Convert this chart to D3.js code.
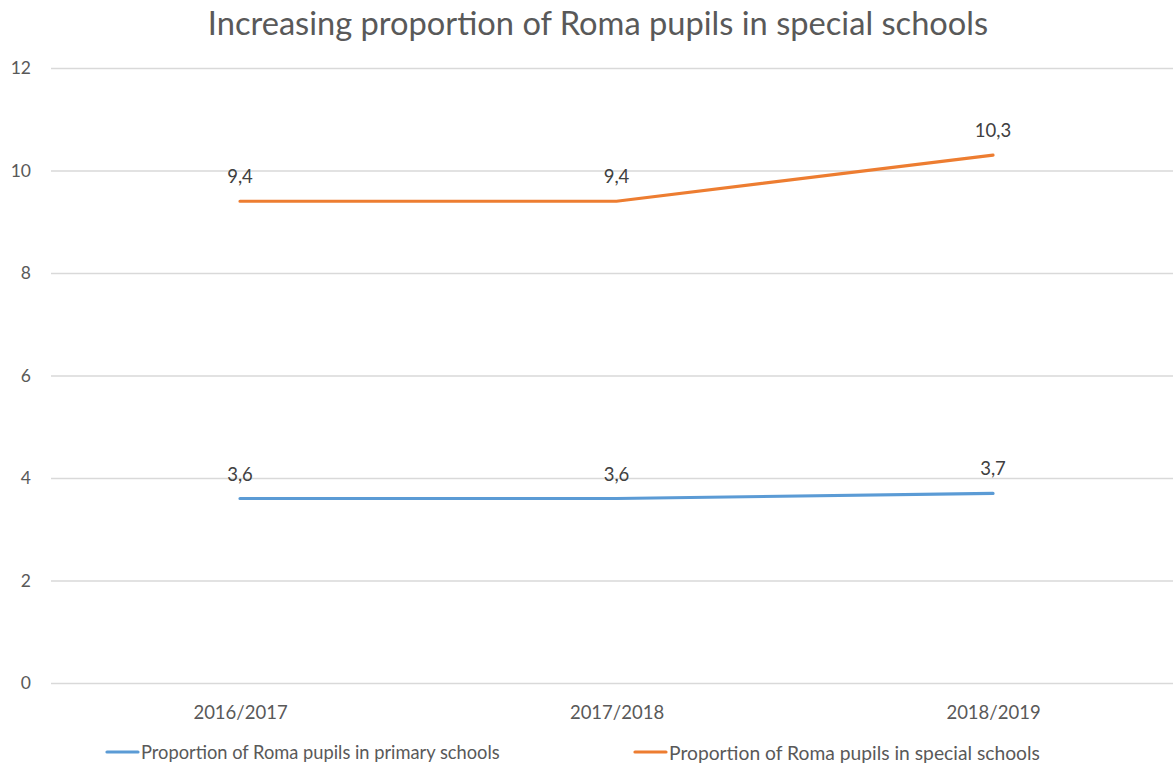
<!DOCTYPE html>
<html><head><meta charset="utf-8">
<script src="https://cdn.jsdelivr.net/npm/d3@7"></script>
<style>body{margin:0;background:#fff}svg{display:block}text{font-family:Lato,"Open Sans",sans-serif;fill:#595959}</style>
</head><body><svg id="c" width="1173" height="769"></svg>
<script>
const title = "Increasing proportion of Roma pupils in special schools";
const categories = ["2016/2017", "2017/2018", "2018/2019"];
const seriesNames = ["Proportion of Roma pupils in primary schools", "Proportion of Roma pupils in special schools"];
const primaryValues = [3.6, 3.6, 3.7];
const specialValues = [9.4, 9.4, 10.3];
const yTicks = [0, 2, 4, 6, 8, 10, 12];
const colors = ["#5B9BD5", "#ED7D31"];

const svg = d3.select("#c");
const x = d3.scalePoint().domain(categories).range([240, 993]);
const y = d3.scaleLinear().domain([0, 12]).range([683, 68]);

function fit(sel, w) {
  const n = sel.node(); const fs = parseFloat(sel.style("font-size"));
  const l = n.getComputedTextLength(); sel.style("font-size", (fs * w / l) + "px");
}

svg.append("text").attr("x", 598).attr("y", 22).attr("text-anchor", "middle")
  .attr("dominant-baseline", "central").style("font-size", "28px").text(title)
  .call(s => fit(s, 781));

const yAxis = d3.axisLeft(y).tickValues(yTicks).tickSize(-1130).tickPadding(20);
const ga = svg.append("g").attr("transform", "translate(51,0)").call(yAxis);
ga.select(".domain").remove();
ga.selectAll(".tick line").attr("stroke", "#D9D9D9").attr("stroke-width", 1.3);
ga.selectAll(".tick text").style("font-size", "17.5px").attr("font-family", null).style("fill", "#595959");

const xAxis = d3.axisBottom(x).tickSize(0).tickPadding(0);
const gx = svg.append("g").attr("transform", "translate(0,713)").call(xAxis);
gx.select(".domain").remove();
gx.selectAll(".tick text").style("font-size", "18.5px").attr("dy", "0.35em").attr("font-family", null).style("fill", "#595959");

const series = [primaryValues, specialValues];
const line = d3.line().x((d, i) => x(categories[i])).y(d => y(d));
series.forEach((vals, si) => {
  svg.append("path").datum(vals).attr("d", line).attr("fill", "none")
    .attr("stroke", colors[si]).attr("stroke-width", 3.2).attr("stroke-linecap", "round");
  svg.selectAll(null).data(vals).enter().append("text")
    .attr("x", (d, i) => x(categories[i]))
    .attr("y", d => y(d) - 25)
    .attr("text-anchor", "middle").attr("dominant-baseline", "central")
    .style("font-size", "18.5px").style("fill", "#404040")
    .text(d => String(d).replace(".", ","));
});

const legX = [107, 635];
const legW = [359, 371];
seriesNames.forEach((nm, i) => {
  svg.append("line").attr("x1", legX[i]).attr("x2", legX[i] + 31).attr("y1", 752).attr("y2", 752)
    .attr("stroke", colors[i]).attr("stroke-width", 3.2).attr("stroke-linecap", "round");
  svg.append("text").attr("x", legX[i] + 34).attr("y", 752).attr("dominant-baseline", "central")
    .style("font-size", "18px").text(nm).call(s => fit(s, legW[i]));
});
</script></body></html>
